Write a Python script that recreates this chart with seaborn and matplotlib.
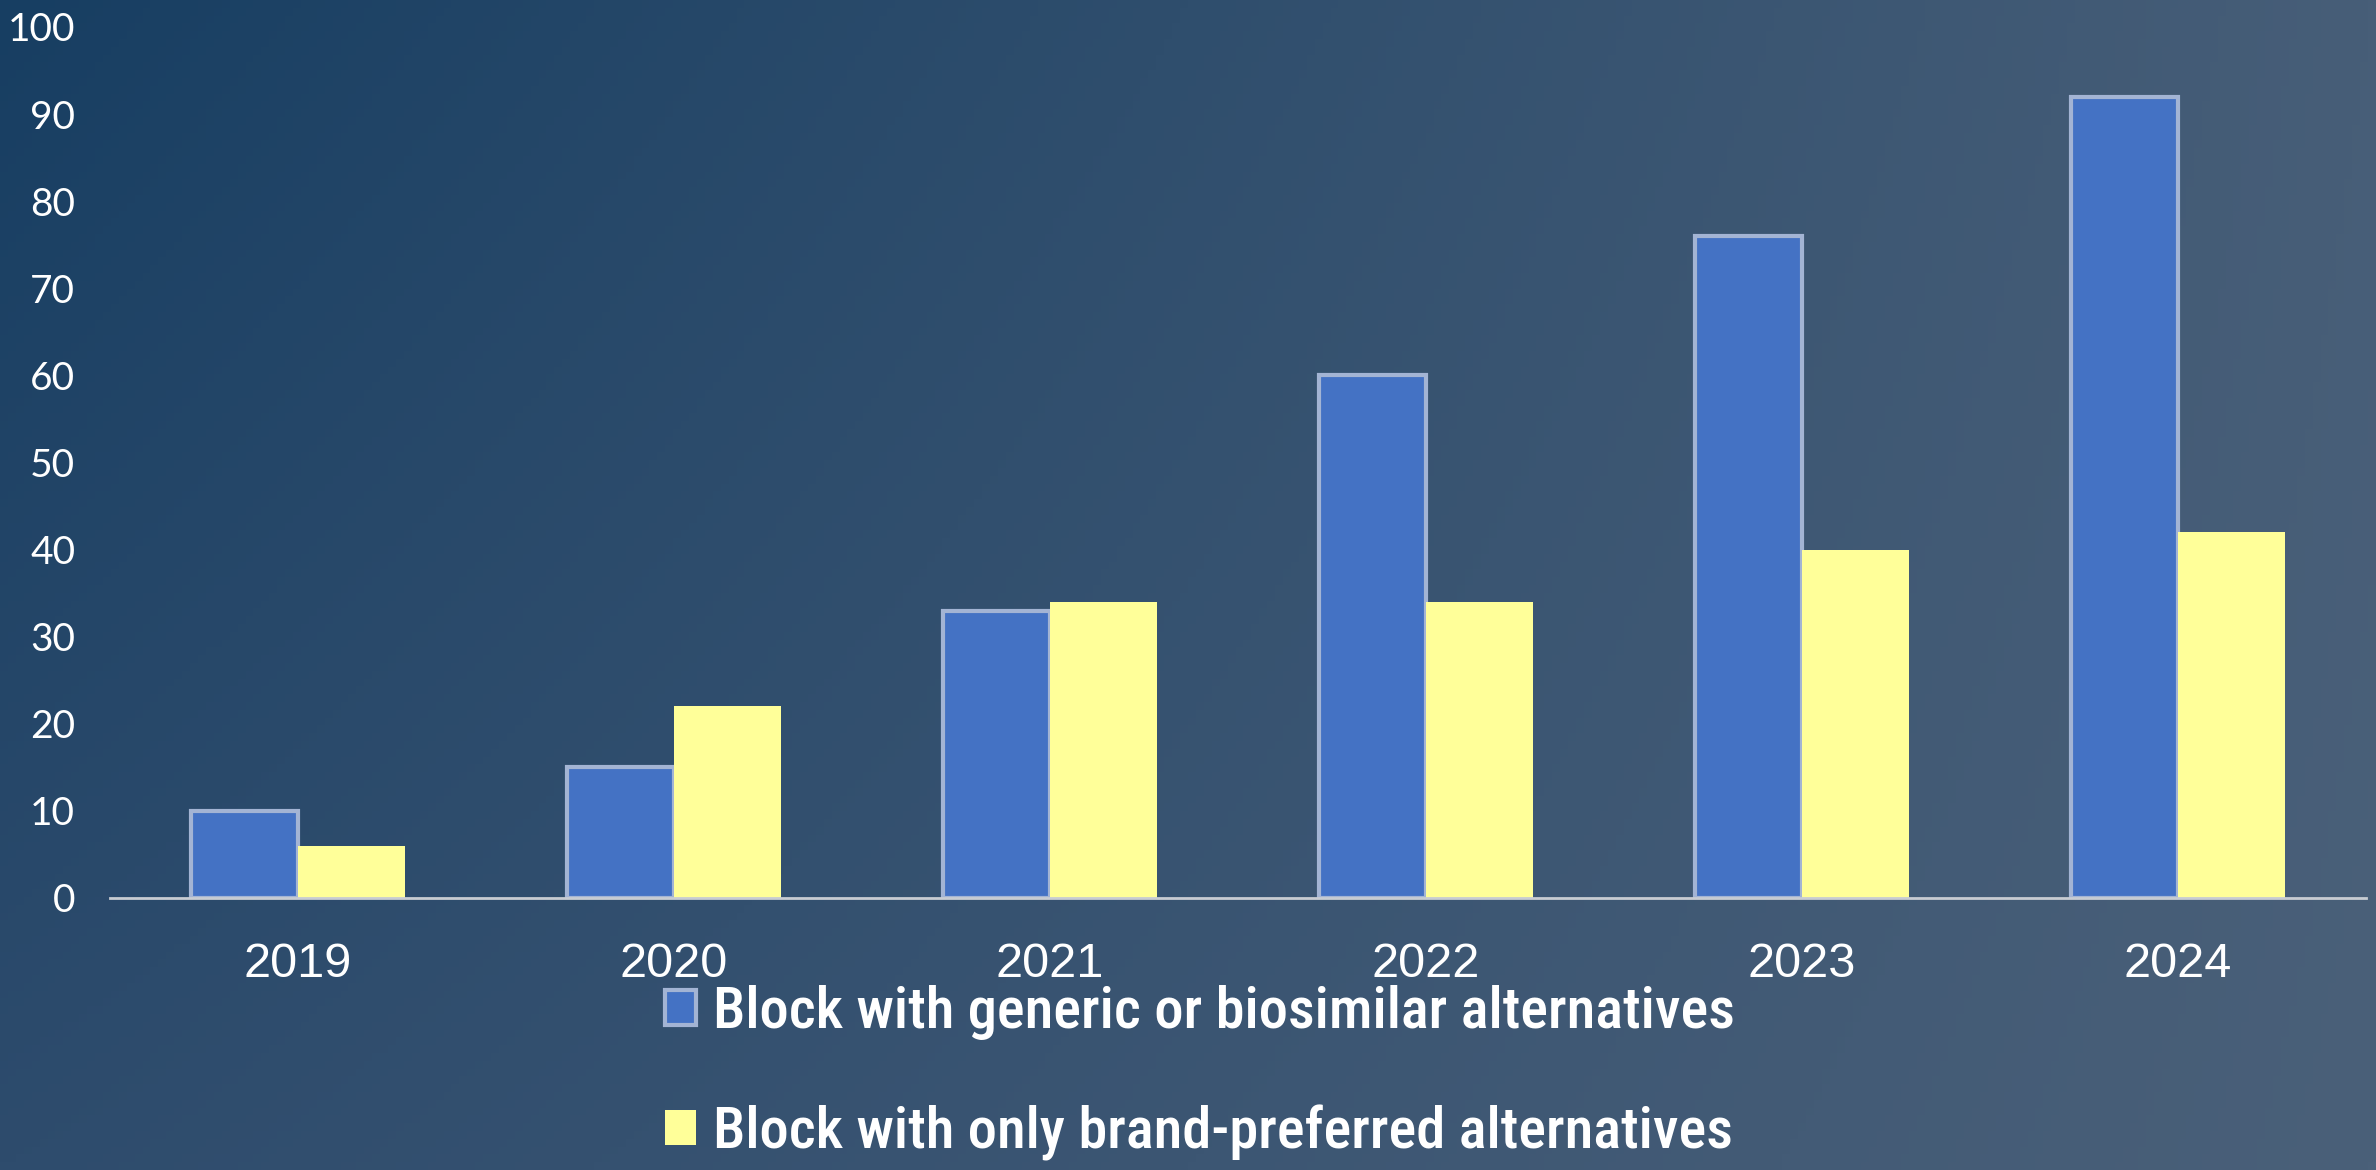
import numpy as np
import pandas as pd
import matplotlib
matplotlib.use("Agg")
import matplotlib.pyplot as plt
import seaborn as sns

# data
years = ["2019", "2020", "2021", "2022", "2023", "2024"]
generic = [10, 15, 33, 60, 76, 92]
brand_only = [6, 22, 34, 34, 40, 42]
series_names = ["Block with generic or biosimilar alternatives",
                "Block with only brand-preferred alternatives"]

df = pd.DataFrame({
    "year": years * 2,
    "value": generic + brand_only,
    "series": [series_names[0]] * len(years) + [series_names[1]] * len(years),
})

sns.set_style("white")
plt.rcParams["font.family"] = ["Lato", "DejaVu Sans"]

fig = plt.figure(figsize=(23.76, 11.7), dpi=100)

# gradient background (dark navy top-left -> slate right)
bg = fig.add_axes([0, 0, 1, 1], zorder=-10)
tl = np.array([0x17, 0x3e, 0x62]) / 255
tr = np.array([0x47, 0x5e, 0x78]) / 255
bl = np.array([0x2e, 0x4c, 0x6d]) / 255
br = np.array([0x4a, 0x60, 0x79]) / 255
u = np.linspace(0, 1, 300)[None, :, None]
v = np.linspace(0, 1, 150)[:, None, None]
grad = (1 - u) * (1 - v) * tl + u * (1 - v) * tr + (1 - u) * v * bl + u * v * br
bg.imshow(grad, aspect="auto", extent=[0, 1, 0, 1], origin="upper")
bg.axis("off")

ax = fig.add_axes([0.0463, 0.2325, 0.9495, 0.7445])
ax.patch.set_alpha(0)

sns.barplot(data=df, x="year", y="value", hue="series",
            palette=["#4472C4", "#FFFF99"], width=0.57, gap=0,
            saturation=1, legend=False, ax=ax)

for p in ax.containers[0]:
    p.set_edgecolor("#A3B4D4")
    p.set_linewidth(3)
for p in ax.containers[1]:
    p.set_edgecolor("none")

ax.set_ylim(0, 100)
ax.set_yticks(range(0, 101, 10))
ax.set_xlabel("")
ax.set_ylabel("")
for s in ["top", "right", "left"]:
    ax.spines[s].set_visible(False)
ax.spines["bottom"].set_color("#C8CCD2")
ax.spines["bottom"].set_linewidth(2)
ax.tick_params(axis="y", length=0, labelsize=28, colors="white", pad=25)
ax.tick_params(axis="x", length=0, labelsize=35, colors="white", pad=32)
for t in ax.get_xticklabels():
    t.set_family(["Liberation Sans", "DejaVu Sans"])

leg = fig.legend(handles=[ax.containers[0], ax.containers[1]], labels=series_names,
                 loc="center", bbox_to_anchor=(0.505, 0.083), ncol=1,
                 frameon=False, handlelength=0.53, handleheight=0.53,
                 handletextpad=0.3, labelspacing=1.1,
                 prop={"family": "Roboto Condensed", "weight": "medium", "size": 42})
for t in leg.get_texts():
    t.set_color("white")

fig.savefig("out.png", dpi=100)
